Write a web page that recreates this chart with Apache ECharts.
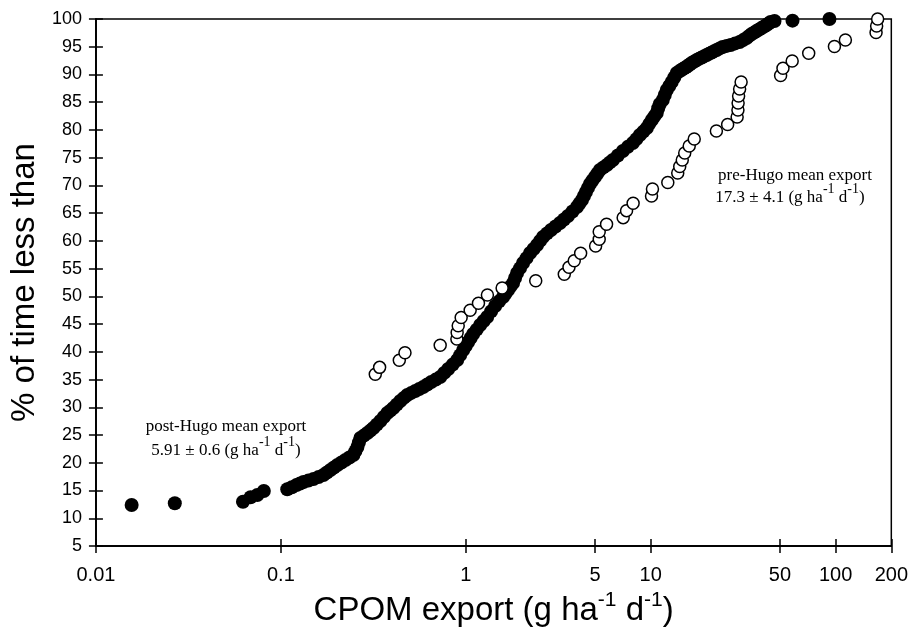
<!DOCTYPE html>
<html>
<head>
<meta charset="utf-8">
<script src="https://cdn.jsdelivr.net/npm/echarts@6/dist/echarts.min.js"></script>
<style>
html,body{margin:0;padding:0;background:#fff;}
#chart{width:911px;height:640px;}
</style>
</head>
<body>
<div id="chart"></div>
<script>
// x tick labels
const xTicks = [0.01, 0.1, 1, 5, 10, 50, 100, 200];
// pre-Hugo (open circles)
const preX = [0.324,0.342,0.437,0.469,0.727,0.895,0.898,0.910,0.944,1.056,1.171,1.309,1.572,2.389,3.409,3.614,3.859,4.179,5.036,5.266,5.266,5.771,7.096,7.402,8.033,10.1,10.22,12.37,14.0,14.35,14.81,15.27,16.15,17.19,22.65,26.06,29.33,29.62,29.69,29.87,30.25,30.82,50.4,51.9,58.2,71.5,98.5,112.9,165.4,166.6,168.7];
const preY = [35.95,37.2,38.5,39.85,41.2,42.3,43.5,44.7,46.2,47.5,48.75,50.25,51.5,52.8,53.98,55.24,56.43,57.77,59.08,60.29,61.66,63.0,64.19,65.45,66.78,68.1,69.36,70.53,72.24,73.42,74.59,75.85,77.11,78.37,79.8,80.99,82.34,83.6,84.86,86.12,87.39,88.65,89.82,91.12,92.43,93.82,95.05,96.22,97.57,98.74,100];
// post-Hugo (filled circles)
const postX = [0.0156,0.0267,0.0624,0.0686,0.0746,0.0809,
  0.1083,0.1147,0.1215,0.127,0.1326,0.141,0.1501,0.16,0.1699,0.1775,0.1854,0.1937,0.2023,0.2126,0.2234,0.2348,0.2467,0.2530,0.2594,0.2642,0.2692,0.2811,0.2936,0.3048,0.3164,0.3305,0.3451,0.3604,0.3764,0.3908,0.4057,0.4237,0.4424,0.4622,0.4828,0.5074,0.5332,0.5603,0.5888,0.6188,0.6504,0.6878,0.7273,0.7645,0.8035,0.8496,0.8984,0.9325,0.968,0.9985,1.030,1.0625,1.096,1.145,1.196,1.249,1.305,1.371,1.441,1.514,1.591,1.641,1.693,1.747,1.802,1.847,1.894,1.966,2.040,2.131,2.226,2.325,2.428,2.52,2.616,2.749,2.889,3.055,3.231,3.396,3.569,3.775,3.992,4.118,4.248,4.354,4.463,4.576,4.692,4.84,4.993,5.15,5.311,5.547,5.794,6.015,6.244,6.644,7.07,7.523,8.004,8.362,8.735,9.122,9.526,9.828,10.14,10.46,10.78,10.98,11.19,11.62,11.91,12.21,12.6,12.99,13.41,13.83,14.35,14.71,15.09,15.47,15.85,16.25,16.66,17.19,17.74,18.3,18.87,19.47,20.08,20.71,21.36,22.03,22.73,23.59,24.49,25.74,27.05,28.6,30.25,31.6,33.0,34.05,35.13,36.23,37.37,38.55,39.77,41.0,42.31,43.37,44.46,46.72,58.45,92.55];
const postY = [12.39,12.7,12.99,13.78,14.19,14.92,
  15.22,15.6,16.0,16.27,16.54,16.8,17.08,17.45,17.8,18.25,18.7,19.15,19.6,20.05,20.5,20.95,21.41,22.1,22.85,23.66,24.47,24.9,25.37,25.8,26.27,26.9,27.53,28.25,28.98,29.4,29.88,30.5,31.14,31.7,32.22,32.6,32.94,33.3,33.66,34.1,34.57,35.0,35.47,36.2,36.91,37.7,38.53,39.4,40.33,41.05,41.78,42.5,43.22,44.0,44.84,45.55,46.28,47.3,48.27,49.1,49.89,50.5,51.15,51.8,52.41,53.3,54.22,55.1,56.02,56.9,57.82,58.55,59.26,60.0,60.71,61.35,61.97,62.6,63.23,63.85,64.49,65.3,66.11,66.75,67.38,68.1,68.82,69.55,70.26,70.9,71.52,72.15,72.78,73.25,73.69,74.15,74.59,75.4,76.21,76.95,77.65,78.35,79.09,79.7,80.36,81.1,81.8,82.45,83.06,83.9,84.68,85.4,86.31,87.21,87.93,88.65,89.46,90.27,90.63,90.85,91.08,91.3,91.53,91.8,92.07,92.35,92.62,92.85,93.07,93.3,93.52,93.75,93.97,94.2,94.42,94.7,94.96,95.15,95.32,95.6,95.86,96.2,96.58,96.95,97.3,97.55,97.84,98.1,98.38,98.65,98.92,99.2,99.47,99.65,99.7,100];

const chart = echarts.init(document.getElementById('chart'), null, {renderer:'canvas'});
const sans = 'Liberation Sans, Arial, sans-serif';
const serif = 'Liberation Serif, Times New Roman, serif';
const axisLine = {show:true, lineStyle:{color:'#000', width:1.5}};
const tickStyle = {color:'#000', width:1.5};

function xAxisCfg(inside, showLabel){
  return {
    type:'log', logBase:10, min:0.01, max:200,
    position:'bottom',
    axisLine: axisLine,
    axisTick:{show:true, inside:inside, length:7, lineStyle:tickStyle, customValues:xTicks},
    minorTick:{show:false},
    axisLabel:{show:showLabel, customValues:xTicks, color:'#000', fontFamily:sans, fontSize:20, margin:19,
      formatter:function(v){return String(+v.toPrecision(6));}},
    splitLine:{show:false},
    name: showLabel ? 'CPOM export (g ha{s|-1} d{s|-1})' : '',
    nameLocation:'middle', nameGap:46,
    nameTextStyle:{color:'#000', fontFamily:sans, fontSize:33, lineHeight:35, verticalAlign:'top',
      rich:{s:{fontFamily:sans, fontSize:21, lineHeight:35, verticalAlign:'top', color:'#000', padding:[-4,0,0,0]}}}
  };
}
function yAxisCfg(inside, showLabel){
  return {
    type:'value', min:5, max:100, interval:5, position:'left',
    axisLine: axisLine,
    axisTick:{show:true, inside:inside, length:7, lineStyle:tickStyle},
    axisLabel:{show:showLabel, color:'#000', fontFamily:sans, fontSize:18, margin:14},
    splitLine:{show:false},
    name: showLabel ? '% of time less than' : '',
    nameLocation:'middle', nameGap:44, nameRotate:90,
    nameTextStyle:{color:'#000', fontFamily:sans, fontSize:33}
  };
}

const option = {
  backgroundColor:'#fff',
  animation:false,
  grid:{left:95, right:19, top:19, bottom:94, show:true, borderColor:'#000', borderWidth:1.5, backgroundColor:'transparent'},
  xAxis:[xAxisCfg(false,true), xAxisCfg(true,false)],
  yAxis:[yAxisCfg(false,true), yAxisCfg(true,false)],
  series:[
    {type:'scatter', name:'post-Hugo', xAxisIndex:0, yAxisIndex:0, symbol:'circle', symbolSize:14,
     itemStyle:{color:'#000', borderColor:'#000', borderWidth:0, opacity:1},
     data: postX.map((x,i)=>[x, postY[i]])},
    {type:'scatter', name:'pre-Hugo', xAxisIndex:0, yAxisIndex:0, symbol:'circle', symbolSize:12,
     itemStyle:{color:'#fff', borderColor:'#000', borderWidth:1.5, opacity:1},
     data: preX.map((x,i)=>[x, preY[i]])}
  ],
  graphic:[
    {type:'text', x:795, y:176, style:{text:'pre-Hugo mean export', fontFamily:serif, fontSize:17, fill:'#000', align:'center', verticalAlign:'middle'}},
    {type:'text', x:790, y:198, style:{text:'17.3 ± 4.1 (g ha{s|-1} d{s|-1})', fontFamily:serif, fontSize:17, fill:'#000', align:'center', verticalAlign:'middle',
      rich:{s:{fontFamily:serif, fontSize:14, verticalAlign:'top', lineHeight:20, padding:[-6,0,0,0]}}}},
    {type:'text', x:226, y:427, style:{text:'post-Hugo mean export', fontFamily:serif, fontSize:17, fill:'#000', align:'center', verticalAlign:'middle'}},
    {type:'text', x:226, y:451, style:{text:'5.91 ± 0.6 (g ha{s|-1} d{s|-1})', fontFamily:serif, fontSize:17, fill:'#000', align:'center', verticalAlign:'middle',
      rich:{s:{fontFamily:serif, fontSize:14, verticalAlign:'top', lineHeight:20, padding:[-6,0,0,0]}}}}
  ]
};
chart.setOption(option);
</script>
</body>
</html>
